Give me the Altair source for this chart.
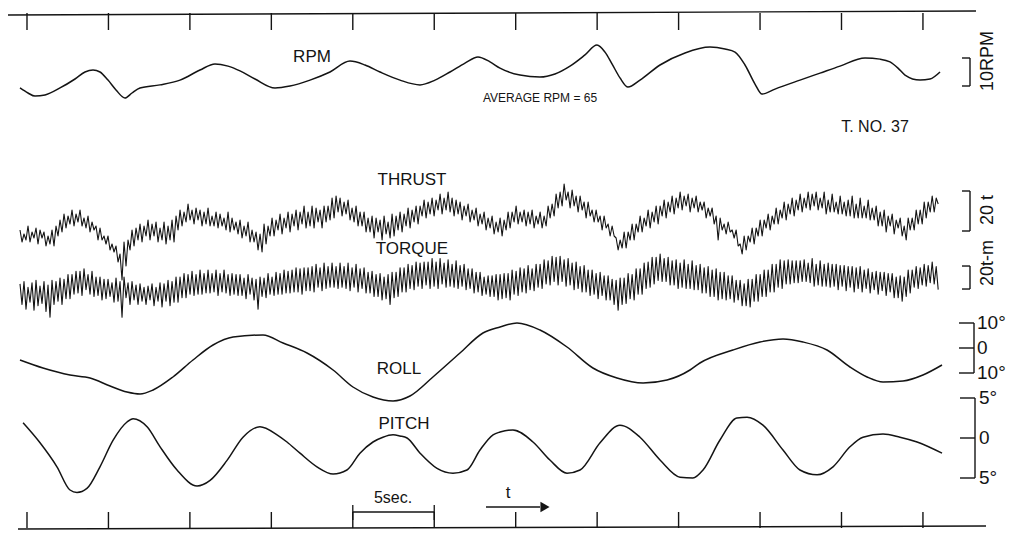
import altair as alt
import pandas as pd

W, H = 1009, 540
INK = "#141414"
FONT = "Liberation Sans"

# ---- time base (seconds) ----
PX_PER_S = 16.29
T_LEFT = 3.343
T_RIGHT = T_LEFT + W / PX_PER_S
MARK_TIMES = [5, 10, 15, 20, 25, 30, 35, 40, 45, 50, 55, 60]
FIVE_SEC = [25, 30]

# ---- RPM (rev/min) ----
RPM_T = [4.571, 5.062, 5.492, 6.105, 7.026, 7.947, 8.561, 9.052, 9.482, 9.973, 10.464, 11.016,
         11.446, 11.937, 13.165, 14.393, 15.620, 16.541, 17.339, 18.076, 18.997, 20.225,
         21.145, 22.373, 23.601, 24.829, 25.750, 26.670, 27.898, 29.126, 30.047, 30.967,
         31.888, 32.686, 33.423, 34.036, 35.264, 36.492, 37.413, 38.334, 39.254, 39.991,
         40.482, 40.912, 41.403, 41.894, 42.631, 43.859, 45.393, 46.928, 47.849, 48.463,
         49.077, 49.690, 50.120, 50.918, 52.453, 53.681, 54.909, 56.444, 57.364, 57.978,
         58.469, 58.899, 59.820, 60.434, 61.048]
RPM_V = [59.3, 57.5, 56.4, 56.8, 59.3, 62.5, 65.0, 65.7, 65.0, 62.1, 58.6, 55.7,
         57.5, 59.3, 60.4, 62.1, 65.7, 67.9, 67.1, 65.4, 62.5, 59.3,
         60.0, 62.1, 65.0, 68.9, 67.5, 65.0, 62.1, 60.4, 62.1, 65.0,
         68.2, 70.4, 68.6, 66.4, 63.9, 63.2, 64.3, 67.1, 71.1, 74.6,
         72.1, 67.9, 62.9, 59.6, 62.1, 67.5, 71.8, 73.9, 73.2, 72.1,
         67.5, 60.7, 57.1, 58.9, 62.1, 64.6, 67.1, 70.0, 69.6, 68.6,
         66.4, 63.9, 62.1, 62.5, 65.0]
RPM_BAR = [60, 70]

# ---- THRUST (t, deviation): crest / trough of each blade cycle ----
PEN_START = 4.571
HALF_PERIOD = 0.1228
THRUST = [
    -5, -11, -7, -10, -3, -11, -6, -9, -4, -12, -5, -9, -6, -13, -8, -12, -5, -13, -3, -8,
    0, -6, 3, -4, 2, -2, 5, -3, 3, -1, 5, -3, 1, -4, 2, -6, -1, -5, -3, -10,
    -4, -10, -8, -12, -8, -15, -12, -16, -13, -21, -17, -30, -11, -23, -10, -15, -5, -13, -4, -10,
    -2, -11, -3, -8, 0, -10, -2, -8, -1, -11, -4, -10, -1, -12, -3, -10, 0, -11, 2, -5,
    5, -3, 4, -1, 8, 0, 5, -2, 6, 0, 5, -3, 4, -2, 6, -3, 2, -3, 4, -4,
    3, -3, 1, -5, 4, -6, 1, -5, -1, -7, 0, -9, -3, -8, -1, -11, -5, -11, -6, -15,
    -7, -16, -2, -12, -3, -8, 1, -8, 0, -5, 3, -7, 1, -4, 4, -6, 3, -3, 5, -5,
    4, -2, 7, -4, 4, -3, 7, -4, 6, -1, 5, -4, 7, -1, 7, 0, 11, 1, 12, 4,
    11, 2, 9, 3, 10, 0, 6, -1, 7, -3, 4, -3, 4, -6, 1, -6, 2, -9, 1, -6,
    0, -10, 2, -7, -1, -9, 3, -8, 2, -5, 4, -6, 3, -3, 6, -4, 5, -1, 7, -2,
    7, 2, 10, 1, 9, 3, 11, 2, 10, 5, 13, 3, 11, 5, 14, 4, 11, 2, 10, 3,
    9, 0, 7, 2, 8, -1, 5, 0, 6, -3, 3, -2, 4, -5, 1, -4, 2, -7, -1, -6,
    1, -8, 0, -5, 4, -4, 4, -1, 7, -2, 4, -1, 5, -3, 4, -2, 5, -4, 2, -2,
    4, -4, 2, -3, 7, 1, 8, 2, 13, 6, 14, 7, 18, 10, 14, 6, 15, 7, 12, 4,
    12, 5, 9, 1, 9, 2, 5, -1, 5, -1, 2, -5, 2, -4, -2, -8, -3, -8, -9, -15,
    -10, -14, -6, -14, -6, -10, -2, -10, -2, -6, 2, -6, 1, -3, 5, -4, 4, -1, 7, -2,
    7, 2, 10, 1, 9, 4, 12, 3, 11, 6, 14, 5, 12, 7, 13, 4, 11, 6, 12, 4,
    9, 5, 9, 1, 6, 2, 6, -2, 2, -10, 1, -5, -2, -7, -1, -6, -5, -9, -5, -13,
    -12, -17, -8, -15, -8, -11, -4, -12, -4, -8, 0, -8, 0, -4, 3, -5, 2, -2, 6, -2,
    5, 1, 9, 0, 8, 3, 11, 2, 10, 5, 13, 4, 11, 6, 14, 5, 13, 7, 14, 5,
    11, 6, 14, 3, 10, 4, 13, 4, 9, 3, 12, 3, 9, 2, 10, 2, 12, 1, 8, 1,
    11, 1, 7, 1, 10, 0, 6, 0, 7, -3, 4, -3, 5, -6, 2, -3, 3, -7, 0, -4,
    1, -8, -3, -10, 1, -5, 1, -5, 5, -2, 5, -2, 9, 1, 9, 4, 12, 4, 11, 8,
]
THRUST_BAR = [-5.5, 14.5]

# ---- TORQUE (t-m, deviation) ----
TORQUE = [
    1, -17, 3, -21, -2, -15, 2, -22, 4, -18, -1, -16, 3, -23, 0, -28, 4, -17, 3, -14,
    6, -17, 5, -12, 9, -12, 9, -8, 12, -7, 12, -9, 14, -4, 9, -8, 12, -10, 7, -9,
    7, -13, 5, -12, 5, -10, 2, -15, 6, -14, 3, -28, 7, -11, 2, -17, 3, -13, 0, -17,
    1, -14, -2, -17, -1, -13, 1, -18, -2, -14, 2, -19, 1, -14, 4, -18, 3, -15, 7, -15,
    7, -11, 10, -11, 9, -8, 12, -9, 9, -8, 13, -8, 10, -7, 13, -7, 10, -6, 13, -9,
    10, -6, 13, -7, 9, -9, 10, -8, 9, -9, 9, -9, 6, -12, 9, -8, 6, -13, 5, -21,
    7, -10, 6, -11, 10, -8, 7, -9, 11, -8, 10, -8, 13, -7, 12, -7, 13, -6, 15, -6,
    14, -8, 15, -5, 15, -5, 16, -6, 18, -2, 15, -5, 19, -3, 16, -2, 19, -2, 16, -3,
    19, -2, 16, -3, 19, -5, 15, -2, 18, -6, 14, -3, 15, -7, 11, -7, 12, -10, 9, -10,
    10, -13, 7, -12, 9, -17, 11, -11, 11, -10, 15, -6, 15, -6, 18, -3, 17, -4, 20, -1,
    19, -3, 20, 0, 20, -3, 23, -1, 20, -3, 23, 1, 19, -2, 22, -1, 18, -2, 21, -3,
    17, -1, 18, -4, 14, -3, 14, -7, 11, -6, 11, -9, 7, -8, 8, -10, 8, -10, 9, -13,
    9, -12, 10, -11, 10, -13, 13, -8, 12, -9, 15, -6, 14, -7, 17, -4, 14, -5, 18, -2,
    18, -3, 22, 1, 21, 0, 25, 3, 24, 0, 25, 3, 22, -1, 23, 0, 19, -4, 20, -3,
    16, -6, 17, -6, 13, -9, 13, -8, 10, -12, 11, -9, 8, -13, 8, -13, 5, -17, 4, -22,
    6, -17, 6, -16, 10, -12, 9, -13, 14, -8, 14, -8, 19, -3, 20, -2, 24, 1, 24, 4,
    27, 3, 23, 3, 24, 0, 21, 0, 22, -3, 19, -2, 22, -3, 18, -3, 21, -4, 17, -4,
    18, -7, 15, -7, 16, -10, 13, -10, 14, -13, 11, -12, 11, -13, 8, -12, 8, -15, 4, -13,
    4, -18, 1, -18, 5, -19, 5, -14, 9, -14, 9, -10, 13, -10, 13, -6, 18, -6, 18, -2,
    22, -3, 21, 1, 22, 1, 21, 2, 21, 2, 21, 3, 22, 3, 19, 2, 23, -1, 18, 0,
    21, -1, 18, -1, 19, -2, 18, -1, 18, -4, 17, -1, 17, -5, 16, -2, 16, -6, 15, -3,
    16, -6, 13, -3, 14, -7, 11, -4, 12, -8, 11, -5, 11, -9, 10, -6, 10, -11, 7, -11,
    8, -14, 7, -10, 13, -7, 13, -2, 16, -3, 15, 0, 18, -1, 17, 2, 20, 1, 16, -4,
]
TORQUE_BAR = [-3.5, 16.5]

# ---- ROLL (deg) ----
ROLL_T = [4.57, 5.98, 7.64, 8.87, 10.10, 11.14, 11.94, 12.74, 13.96, 15.19, 16.42, 17.65,
          19.49, 20.72, 22.19, 23.79, 25.01, 26.24, 27.47, 28.51, 29.92, 31.58, 32.99,
          34.04, 35.08, 36.49, 38.15, 39.74, 41.22, 42.82, 44.29, 45.70, 46.31, 48.34,
          50.00, 51.41, 52.64, 54.11, 55.52, 56.57, 57.55, 58.78, 60.00, 61.17]
ROLL_V = [-4.8, -8.0, -10.8, -12.0, -15.2, -17.6, -18.4, -16.8, -11.6, -4.8, 1.2, 4.4,
          5.2, 2.0, -2.0, -8.8, -15.6, -19.6, -21.2, -19.2, -11.6, -2.0, 6.0,
          8.4, 10.0, 7.2, 0.4, -8.0, -12.0, -14.0, -12.8, -8.8, -6.0, -0.8,
          2.4, 3.6, 2.4, -0.8, -7.6, -11.6, -13.6, -13.2, -10.8, -6.8]
ROLL_TICKS = [10, 0, -10]
ROLL_LABELS = ["10°", "0", "10°"]

# ---- PITCH (deg) ----
PITCH_T = [4.76, 5.80, 6.84, 7.64, 8.07, 8.68, 9.48, 10.28, 11.14, 11.51, 12.37, 13.17,
           14.21, 15.44, 16.24, 17.28, 18.26, 19.30, 20.35, 20.96, 21.76, 22.80, 23.79,
           24.64, 25.44, 26.24, 26.85, 27.47, 27.90, 28.33, 29.13, 30.17, 31.15, 32.01,
           32.81, 33.61, 34.04, 34.83, 36.06, 37.10, 38.15, 38.95, 40.18, 41.40, 42.63,
           43.86, 45.09, 45.88, 46.50, 47.54, 48.58, 49.20, 50.18, 51.41, 52.45, 53.50,
           54.48, 55.52, 56.32, 57.55, 58.59, 59.64, 61.17]
PITCH_V = [1.9, -0.6, -3.6, -6.5, -6.8, -6.3, -3.6, -0.3, 2.0, 2.4, 1.4, -1.1,
           -4.0, -6.0, -5.3, -2.8, 0.1, 1.4, 0.4, -0.5, -1.9, -3.6, -4.5,
           -4.0, -1.9, -0.5, 0.1, 0.4, 0.25, 0.0, -1.9, -3.8, -4.4, -4.0,
           -1.5, 0.4, 0.75, 1.0, -0.5, -2.75, -4.4, -4.0, -0.6, 1.6, 0.1,
           -2.75, -4.9, -5.0, -4.0, -0.25, 2.5, 2.6, 1.6, -1.5, -4.0, -4.6,
           -3.6, -1.1, 0.1, 0.5, 0.1, -0.5, -1.9]
PITCH_TICKS = [5, 0, -5]
PITCH_LABELS = ["5°", "0", "5°"]

# ---------------------------------------------------------------
XS = alt.Scale(domain=[T_LEFT, T_RIGHT], nice=False, zero=False)


def yscale(px_per_unit, v0, p0):
    return alt.Scale(domain=[v0 - (H - p0) / px_per_unit, v0 + p0 / px_per_unit],
                     nice=False, zero=False)


YS_RPM = yscale(2.8, 65, 72)
YS_THR = yscale(2.0, 0, 220)
YS_TOR = yscale(1.15, 0, 285)
YS_ROL = yscale(2.5, 0, 348)
YS_PIT = yscale(8.0, 0, 438)

ONE = pd.DataFrame({"k": [0]})


def pen_df(values):
    return pd.DataFrame({"t": [PEN_START + i * HALF_PERIOD for i in range(len(values))],
                         "v": values})


def trace(df, ys, width=1.4, interp="linear"):
    return alt.Chart(df).mark_line(color=INK, strokeWidth=width, interpolate=interp,
                                   strokeJoin="round").encode(
        x=alt.X("t:Q", scale=XS, axis=None),
        y=alt.Y("v:Q", scale=ys, axis=None))


def bracket(lo_hi, ys, xline, xtick):
    df = pd.DataFrame({"lo": [lo_hi[0]], "hi": [lo_hi[1]]})
    vert = alt.Chart(df).mark_rule(color=INK, strokeWidth=1.4).encode(
        x=alt.value(xline), y=alt.Y("lo:Q", scale=ys, axis=None), y2="hi:Q")
    ends = alt.Chart(pd.DataFrame({"v": lo_hi})).mark_rule(color=INK, strokeWidth=1.4).encode(
        x=alt.value(xtick), x2=alt.value(xline), y=alt.Y("v:Q", scale=ys, axis=None))
    return [vert, ends]


def degree_scale(ticks, labels, ys, xline, xtick, xlab):
    df = pd.DataFrame({"v": ticks, "lab": labels})
    vert = alt.Chart(pd.DataFrame({"lo": [min(ticks)], "hi": [max(ticks)]})).mark_rule(
        color=INK, strokeWidth=1.4).encode(
        x=alt.value(xline), y=alt.Y("lo:Q", scale=ys, axis=None), y2="hi:Q")
    tk = alt.Chart(df).mark_rule(color=INK, strokeWidth=1.4).encode(
        x=alt.value(xtick), x2=alt.value(xline), y=alt.Y("v:Q", scale=ys, axis=None))
    tx = alt.Chart(df).mark_text(color=INK, fontSize=19, font=FONT, align="left",
                                 baseline="middle").encode(
        x=alt.value(xlab), y=alt.Y("v:Q", scale=ys, axis=None), text="lab:N")
    return [vert, tk, tx]


def label(txt, x, y, size=16, angle=0, align="center"):
    return alt.Chart(ONE).mark_text(text=txt, fontSize=size, angle=angle, align=align,
                                    baseline="middle", font=FONT, color=INK).encode(
        x=alt.value(x), y=alt.value(y))


layers = []

# timing marks (top and bottom)
marks = pd.DataFrame({"t": MARK_TIMES})
layers.append(alt.Chart(ONE).mark_rule(color=INK, strokeWidth=1.4).encode(
    x=alt.value(8), x2=alt.value(976), y=alt.value(15), y2=alt.value(11)))
layers.append(alt.Chart(marks).mark_rule(color=INK, strokeWidth=1.4).encode(
    x=alt.X("t:Q", scale=XS, axis=None), y=alt.value(13), y2=alt.value(30)))
layers.append(alt.Chart(ONE).mark_rule(color=INK, strokeWidth=1.4).encode(
    x=alt.value(18), x2=alt.value(986), y=alt.value(529), y2=alt.value(526)))
layers.append(alt.Chart(marks).mark_rule(color=INK, strokeWidth=1.4).encode(
    x=alt.X("t:Q", scale=XS, axis=None), y=alt.value(512), y2=alt.value(528)))

# 5 sec bracket
fs = pd.DataFrame({"a": [FIVE_SEC[0]], "b": [FIVE_SEC[1]]})
layers.append(alt.Chart(fs).mark_rule(color=INK, strokeWidth=1.3).encode(
    x=alt.X("a:Q", scale=XS, axis=None), x2="b:Q", y=alt.value(512)))
layers.append(alt.Chart(pd.DataFrame({"t": FIVE_SEC})).mark_rule(color=INK, strokeWidth=1.3).encode(
    x=alt.X("t:Q", scale=XS, axis=None), y=alt.value(505), y2=alt.value(520)))

# arrow t ->
layers.append(alt.Chart(ONE).mark_rule(color=INK, strokeWidth=1.6).encode(
    x=alt.value(486), x2=alt.value(540), y=alt.value(507)))
layers.append(alt.Chart(ONE).mark_point(shape="triangle-right", filled=True, color=INK,
                                        size=110, opacity=1).encode(
    x=alt.value(545), y=alt.value(507)))

# traces
layers.append(trace(pd.DataFrame({"t": RPM_T, "v": RPM_V}), YS_RPM, 1.5, "monotone"))
layers.append(trace(pen_df(THRUST), YS_THR, 1.1))
layers.append(trace(pen_df(TORQUE), YS_TOR, 1.1))
layers.append(trace(pd.DataFrame({"t": ROLL_T, "v": ROLL_V}), YS_ROL, 1.5, "monotone"))
layers.append(trace(pd.DataFrame({"t": PITCH_T, "v": PITCH_V}), YS_PIT, 1.5, "monotone"))

# scale bars
layers += bracket(RPM_BAR, YS_RPM, 970, 962)
layers += bracket(THRUST_BAR, YS_THR, 970, 962)
layers += bracket(TORQUE_BAR, YS_TOR, 970, 962)
layers += degree_scale(ROLL_TICKS, ROLL_LABELS, YS_ROL, 974, 959, 977)
layers += degree_scale(PITCH_TICKS, PITCH_LABELS, YS_PIT, 975, 960, 979)

# labels
layers += [
    label("RPM", 312, 57, 17),
    label("AVERAGE RPM = 65", 540, 98, 12),
    label("T. NO. 37", 875, 127, 16),
    label("THRUST", 412, 180, 17),
    label("TORQUE", 412, 249, 17),
    label("ROLL", 399, 369, 17),
    label("PITCH", 404, 424, 17),
    label("5sec.", 393, 498, 16),
    label("t", 508, 493, 17),
    label("10RPM", 988, 61, 18, 270),
    label("20 t", 988, 210, 18, 270),
    label("20t-m", 988, 263, 18, 270),
]

chart = alt.layer(*layers).resolve_scale(y="independent").properties(
    width=W, height=H, padding=0, autosize="none", background="white"
).configure_view(stroke=None)

chart.save("out.html", embed_options={"renderer": "svg", "actions": False})
